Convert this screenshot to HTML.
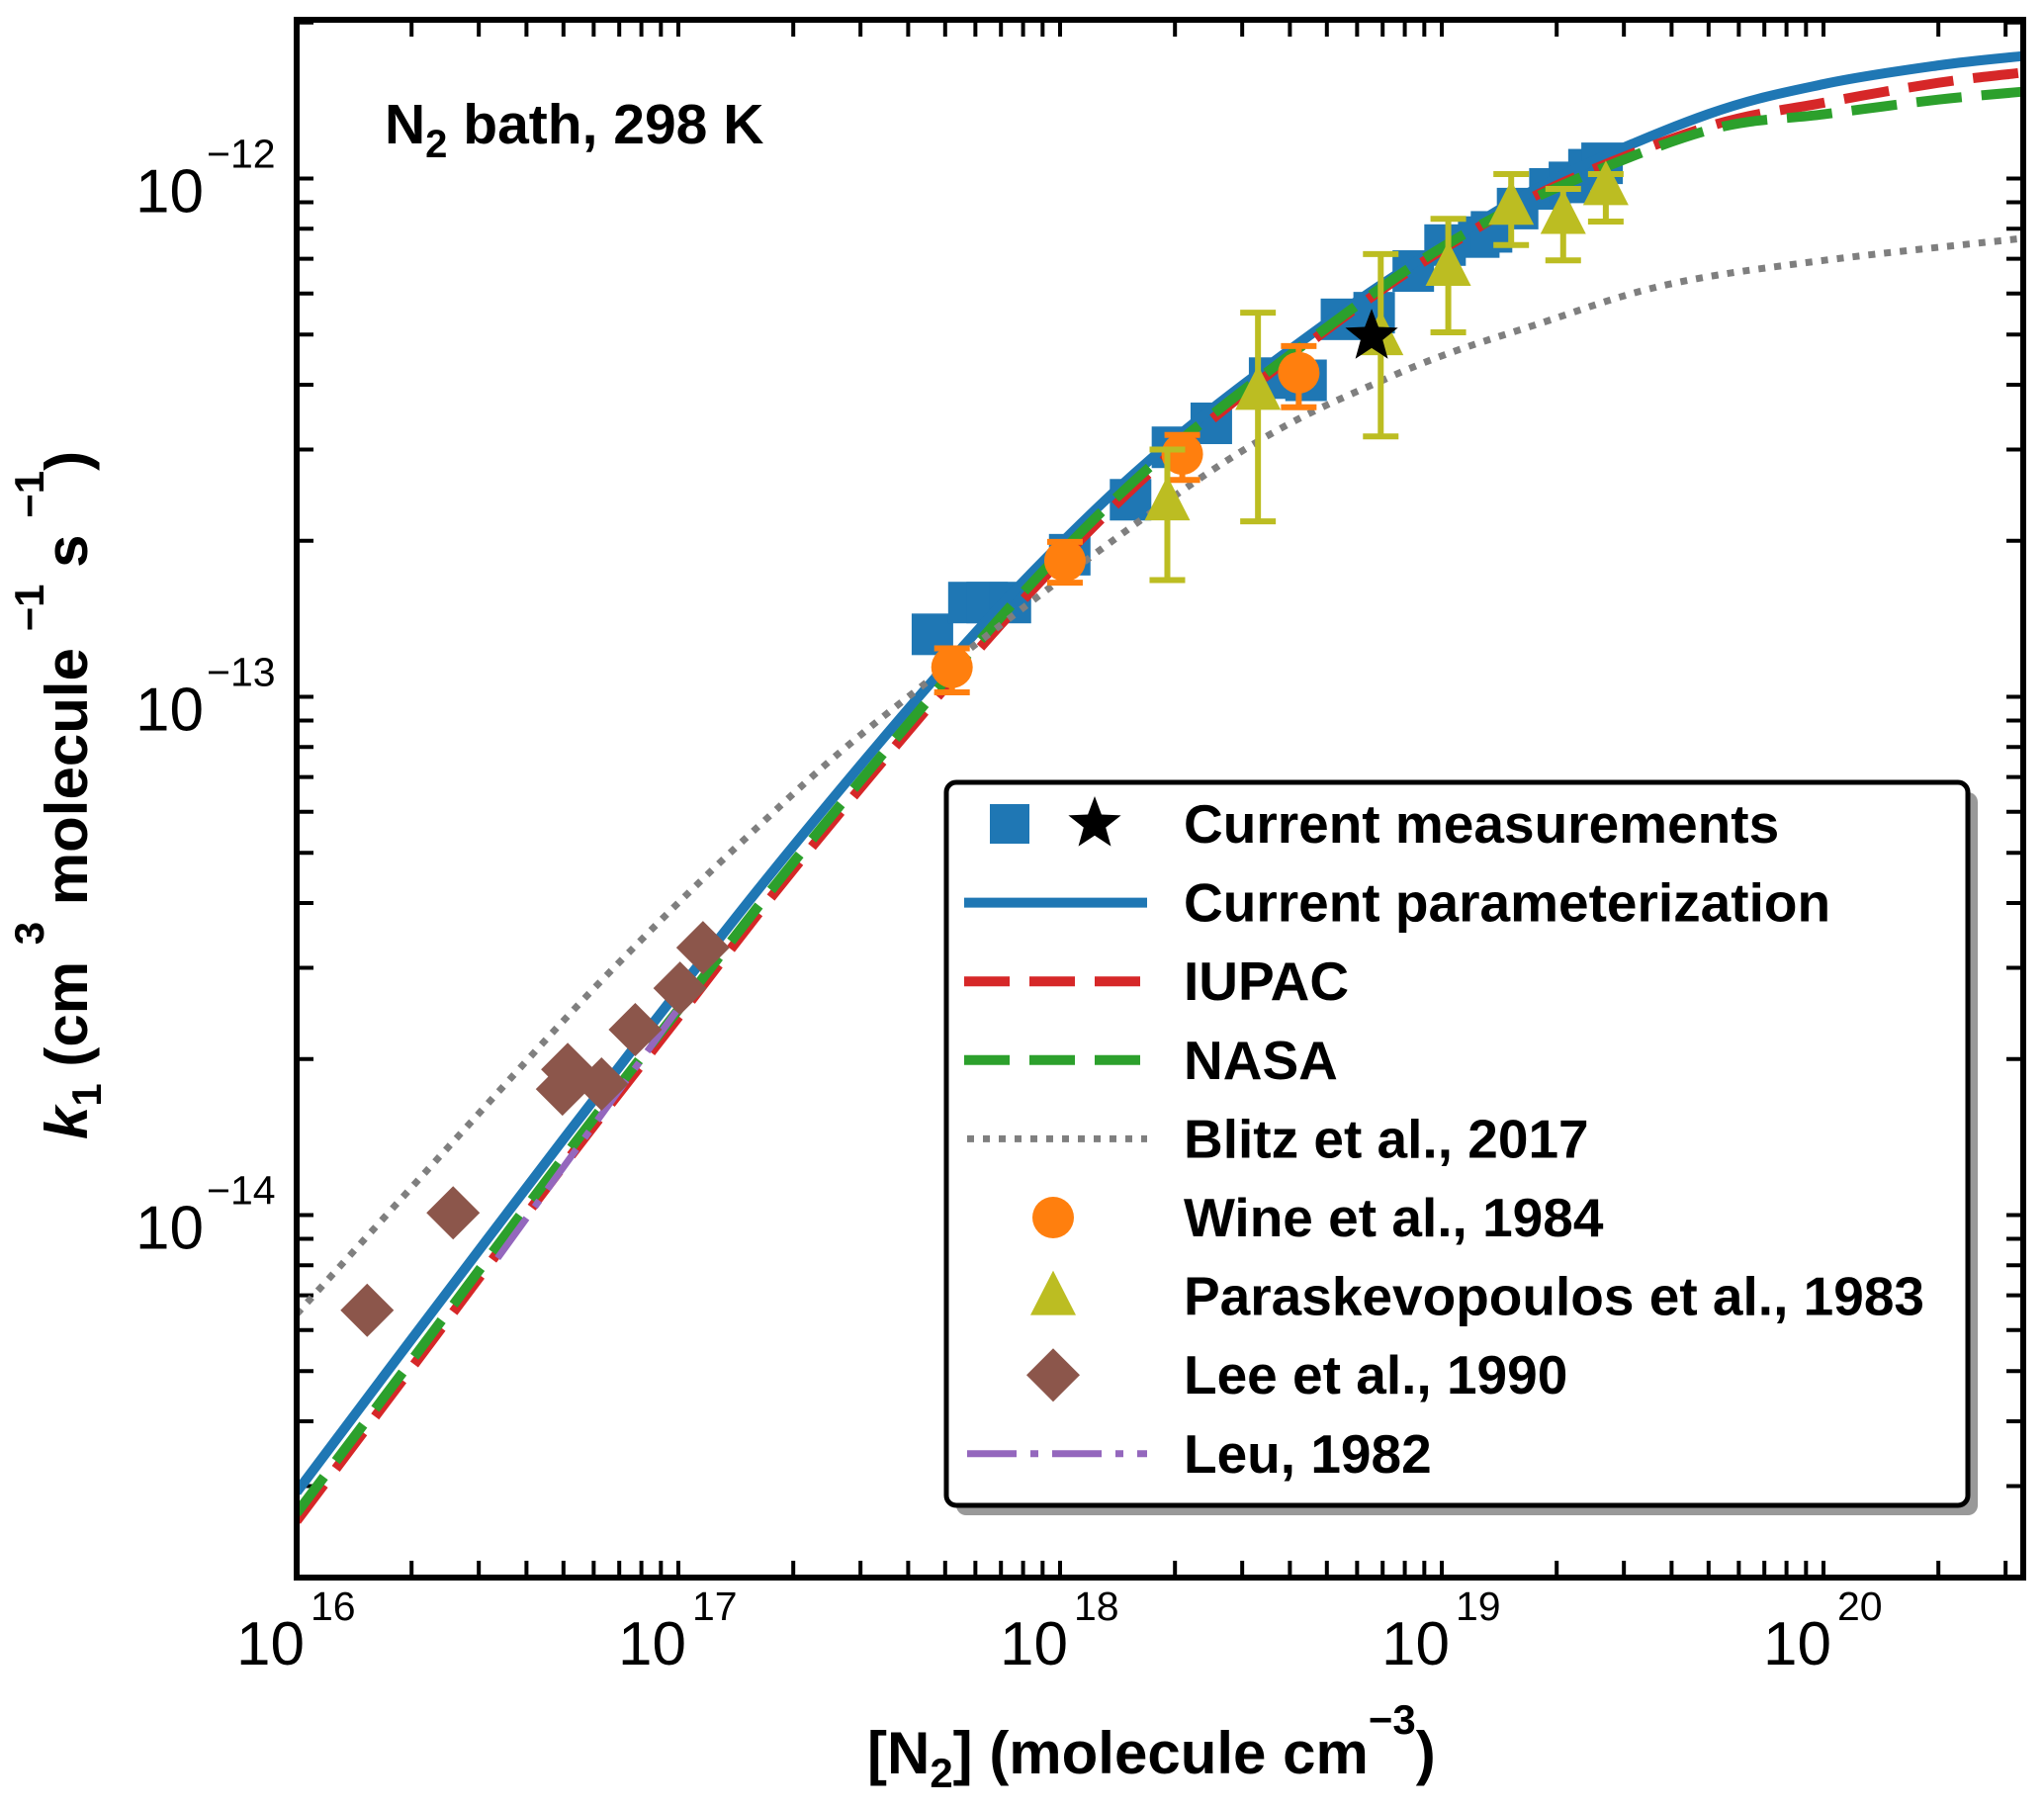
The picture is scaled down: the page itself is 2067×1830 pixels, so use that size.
<!DOCTYPE html>
<html><head><meta charset="utf-8"><style>
html,body{margin:0;padding:0;background:#fff;}
svg{display:block;font-family:"Liberation Sans",Arial,sans-serif;}
</style></head><body>
<svg id="chart" width="2067" height="1830" viewBox="0 0 2067 1830" xmlns="http://www.w3.org/2000/svg">
<defs><clipPath id="clip"><rect x="300" y="20" width="1746" height="1575"/></clipPath></defs>
<rect width="2067" height="1830" fill="#fff"/>
<g id="ticks"></g>
<g id="ticklabels"></g>
<g id="plot" clip-path="url(#clip)"></g>
<rect x="300" y="20" width="1746" height="1575" fill="none" stroke="#000" stroke-width="6"/>
<text x="389" y="145" font-size="57" font-weight="bold">N<tspan font-size="40" dy="14">2</tspan><tspan dy="-14"> bath, 298 K</tspan></text>
<text x="877" y="1793" font-size="60" font-weight="bold">[N<tspan font-size="42" dy="14">2</tspan><tspan dy="-14">] (molecule cm</tspan><tspan font-size="42" dy="-40">−3</tspan><tspan dy="40">)</tspan></text>
<text transform="translate(88,1152) rotate(-90)" font-size="60" font-weight="bold"><tspan font-style="italic">k</tspan><tspan font-size="42" dy="14">1</tspan><tspan dy="-14"> (cm </tspan><tspan font-size="42" dy="-44">3</tspan><tspan dy="44"> molecule </tspan><tspan font-size="42" dy="-44">−1</tspan><tspan dy="44"> s </tspan><tspan font-size="42" dy="-44">−1</tspan><tspan dy="44">)</tspan></text>
<g id="legend"></g>
</svg>
<script>
var NS="http://www.w3.org/2000/svg";
// ---- data ----
var curveX=[1e16,2e16,5e16,1e17,2e17,5e17,1e18,2e18,5e18,1e19,2e19,5e19,1e20,2e20,3.3e20];
var currentK=[2.92e-15,5.76e-15,1.401e-14,2.71e-14,5.15e-14,1.144e-13,1.97e-13,3.15e-13,5.27e-13,7.43e-13,1.001e-12,1.332e-12,1.521e-12,1.653e-12,1.722e-12];
var iupacK=[2.57e-15,5.07e-15,1.247e-14,2.41e-14,4.64e-14,1.041e-13,1.83e-13,2.99e-13,5.11e-13,7.28e-13,9.7e-13,1.26e-12,1.40e-12,1.53e-12,1.60e-12];
var nasaK=[2.66e-15,5.24e-15,1.289e-14,2.49e-14,4.79e-14,1.075e-13,1.89e-13,3.06e-13,5.16e-13,7.36e-13,9.6e-13,1.24e-12,1.33e-12,1.42e-12,1.47e-12];
var blitzX=[1.0e16,2.49e16,6.19e16,1.54e17,3.83e17,2.49e18,7.48e18,1.86e19,3.93e19,1e20,3.3e20];
var blitzK=[6.44e-15,1.35e-14,2.8e-14,5.43e-14,9.75e-14,2.73e-13,4.17e-13,5.29e-13,6.25e-13,6.95e-13,7.66e-13];
var leuX=[3.36e16,1.01e17];
var leuK=[8.26e-15,2.53e-14];
var measX=[4.63e17,5.77e17,6.44e17,7.41e17,1.06e18,1.53e18,1.97e18,2.49e18,3.54e18,4.41e18,5.46e18,6.65e18,8.42e18,1.02e19,1.25e19,1.35e19,1.58e19,1.92e19,2.16e19,2.43e19,2.63e19];
var measK=[1.32e-13,1.52e-13,1.52e-13,1.52e-13,1.88e-13,2.40e-13,3.03e-13,3.37e-13,4.12e-13,4.08e-13,5.35e-13,5.51e-13,6.63e-13,7.44e-13,7.71e-13,7.89e-13,8.75e-13,9.55e-13,9.83e-13,1.04e-12,1.07e-12];
var starX=[6.55e18];
var starK=[4.96e-13];
var wineX=[5.21e17,1.03e18,2.09e18,4.22e18];
var wineK=[1.14e-13,1.83e-13,2.94e-13,4.22e-13];
var wineLo=[1.02e-13,1.66e-13,2.62e-13,3.62e-13];
var wineHi=[1.24e-13,1.99e-13,3.2e-13,4.75e-13];
var paraX=[1.91e18,3.30e18,6.92e18,1.04e19,1.52e19,2.08e19,2.69e19];
var paraK=[2.38e-13,3.89e-13,4.96e-13,6.75e-13,8.85e-13,8.5e-13,9.66e-13];
var paraLo=[1.68e-13,2.18e-13,3.18e-13,5.05e-13,7.44e-13,6.95e-13,8.26e-13];
var paraHi=[3.0e-13,5.51e-13,7.15e-13,8.36e-13,1.02e-12,9.55e-13,1.02e-12];
var leeX=[1.53e16,2.57e16,5.13e16,4.97e16,6.29e16,7.71e16,1.01e17,1.16e17];
var leeK=[6.55e-15,1.01e-14,1.91e-14,1.75e-14,1.79e-14,2.28e-14,2.74e-14,3.28e-14];
var xTickExps=[16,17,18,19,20];
var yTickExps=[-12,-13,-14];
var legendLabels=["Current measurements","Current parameterization","IUPAC","NASA","Blitz et al., 2017","Wine et al., 1984","Paraskevopoulos et al., 1983","Lee et al., 1990","Leu, 1982"];
// ---- axes ----
var L=300,R=2046,T=20,B=1595,DX=386,Y12=180.5,DY=524;
function sx(v){return L+(Math.log10(v)-16)*DX;}
function sy(v){return Y12-(Math.log10(v)+12)*DY;}
function el(tag,attrs,parent){var e=document.createElementNS(NS,tag);for(var k in attrs)e.setAttribute(k,attrs[k]);parent.appendChild(e);return e;}
var plot=document.getElementById('plot'),ticks=document.getElementById('ticks'),tl=document.getElementById('ticklabels');
for(var d=16;d<=20;d++){for(var m=1;m<=9;m++){var v=m*Math.pow(10,d);var x=sx(v);if(x<L-1||x>R+1)continue;
 var t1=el('line',{x1:x,x2:x,y1:B,y2:B-17,stroke:'#000','stroke-width':4},ticks);
 
 var t2=el('line',{x1:x,x2:x,y1:T,y2:T+17,stroke:'#000','stroke-width':4},ticks);
 }}
for(var d=-15;d<=-12;d++){for(var m=1;m<=9;m++){var v=m*Math.pow(10,d);var y=sy(v);if(y<T-1||y>B+1)continue;
 var t3=el('line',{x1:L,x2:L+17,y1:y,y2:y,stroke:'#000','stroke-width':4},ticks);
 
 var t4=el('line',{x1:R,x2:R-17,y1:y,y2:y,stroke:'#000','stroke-width':4},ticks);
 }}
xTickExps.forEach(function(e){var x=sx(Math.pow(10,e));
 var g=el('g',{},tl);
 el('text',{x:x+8,y:1683,'text-anchor':'end','font-size':62},g).textContent='10';
 el('text',{x:x+14,y:1638,'font-size':41},g).textContent=String(e);});
yTickExps.forEach(function(e){var y=sy(Math.pow(10,e));
 var g=el('g',{},tl);
 el('text',{x:206,y:y+34,'text-anchor':'end','font-size':62},g).textContent='10';
 el('text',{x:209,y:y-11,'font-size':41},g).textContent='\u2212'+String(-e);});
function pathD(xs,ys){var pts=xs.map(function(x,i){return [sx(x),sy(ys[i])];});var d='M'+pts[0][0]+','+pts[0][1];
 for(var i=0;i<pts.length-1;i++){var p0=pts[i-1]||pts[i],p1=pts[i],p2=pts[i+1],p3=pts[i+2]||p2;
 d+=' C'+(p1[0]+(p2[0]-p0[0])/6)+','+(p1[1]+(p2[1]-p0[1])/6)+' '+(p2[0]-(p3[0]-p1[0])/6)+','+(p2[1]-(p3[1]-p1[1])/6)+' '+p2[0]+','+p2[1];}return d;}
function sq(x,y,s,c,name){var r=el('rect',{x:x-s/2,y:y-s/2,width:s,height:s,fill:c},plot);return r;}
measX.forEach(function(x,i){sq(sx(x),sy(measK[i]),42,'#1f77b4','measurement-square');});
var c1=el('path',{d:pathD(curveX,currentK),fill:'none',stroke:'#1f77b4','stroke-width':10},plot);

var c2=el('path',{d:pathD(curveX,iupacK),fill:'none',stroke:'#d62728','stroke-width':10,'stroke-dasharray':'46 20'},plot);

var c3=el('path',{d:pathD(curveX,nasaK),fill:'none',stroke:'#2ca02c','stroke-width':10,'stroke-dasharray':'46 20'},plot);

var c4=el('path',{d:pathD(blitzX,blitzK),fill:'none',stroke:'#7f7f7f','stroke-width':7,'stroke-dasharray':'7 9'},plot);

var c5=el('path',{d:pathD(leuX,leuK),fill:'none',stroke:'#9467bd','stroke-width':7,'stroke-dasharray':'50 14 8 14'},plot);

function errbar(x,lo,hi,c,name){var X=sx(x),y1=sy(lo),y2=sy(hi);var g=el('g',{stroke:c,'stroke-width':6},plot);
 
 el('line',{x1:X,x2:X,y1:y1,y2:y2},g);el('line',{x1:X-18,x2:X+18,y1:y1,y2:y1},g);el('line',{x1:X-18,x2:X+18,y1:y2,y2:y2},g);}
wineX.forEach(function(x,i){errbar(x,wineLo[i],wineHi[i],'#ff7f0e','wine-errorbar');});
wineX.forEach(function(x,i){var c=el('circle',{cx:sx(x),cy:sy(wineK[i]),r:21,fill:'#ff7f0e'},plot);
 });
paraX.forEach(function(x,i){errbar(x,paraLo[i],paraHi[i],'#bcbd22','paraskevopoulos-errorbar');});
paraX.forEach(function(x,i){var X=sx(x),Y=sy(paraK[i]);var p=el('polygon',{points:(X)+','+(Y-26)+' '+(X-23)+','+(Y+19)+' '+(X+23)+','+(Y+19),fill:'#bcbd22'},plot);
 });
leeX.forEach(function(x,i){var X=sx(x),Y=sy(leeK[i]);var p=el('polygon',{points:X+','+(Y-27)+' '+(X+27)+','+Y+' '+X+','+(Y+27)+' '+(X-27)+','+Y,fill:'#8c564b'},plot);
 });
function starPts(X,Y,r){var s='';for(var k=0;k<10;k++){var a=-Math.PI/2+k*Math.PI/5;var rr=k%2?r*0.42:r;s+=(X+rr*Math.cos(a))+','+(Y+rr*Math.sin(a))+' ';}return s;}
starX.forEach(function(x,i){var p=el('polygon',{points:starPts(sx(x),sy(starK[i]),28),fill:'#000'},plot);
 });
var lg=document.getElementById('legend');
var sh=el('rect',{x:967,y:801,width:1033,height:731,rx:10,fill:'#999'},lg);

var bx=el('rect',{x:957,y:791,width:1033,height:731,rx:10,fill:'#fff',stroke:'#000','stroke-width':5},lg);

legendLabels.forEach(function(lab,i){var cy=833+i*79.6;var g=el('g',{},lg);
 
 var t=el('text',{x:1197,y:cy+19,'font-size':55,'font-weight':'bold'},g);t.textContent=lab;
 if(i==0){el('rect',{x:1001,y:cy-20,width:40,height:40,fill:'#1f77b4'},g);el('polygon',{points:starPts(1107,cy,28),fill:'#000'},g);}
 if(i==1)el('line',{x1:975,x2:1160,y1:cy,y2:cy,stroke:'#1f77b4','stroke-width':10},g);
 if(i==2)el('line',{x1:975,x2:1160,y1:cy,y2:cy,stroke:'#d62728','stroke-width':10,'stroke-dasharray':'46 20'},g);
 if(i==3)el('line',{x1:975,x2:1160,y1:cy,y2:cy,stroke:'#2ca02c','stroke-width':10,'stroke-dasharray':'46 20'},g);
 if(i==4)el('line',{x1:978,x2:1160,y1:cy,y2:cy,stroke:'#7f7f7f','stroke-width':7,'stroke-dasharray':'7 9'},g);
 if(i==5)el('circle',{cx:1065,cy:cy,r:21,fill:'#ff7f0e'},g);
 if(i==6)el('polygon',{points:'1065,'+(cy-26)+' 1042,'+(cy+19)+' 1088,'+(cy+19),fill:'#bcbd22'},g);
 if(i==7)el('polygon',{points:'1065,'+(cy-27)+' 1092,'+cy+' 1065,'+(cy+27)+' 1038,'+cy,fill:'#8c564b'},g);
 if(i==8)el('line',{x1:978,x2:1160,y1:cy,y2:cy,stroke:'#9467bd','stroke-width':7,'stroke-dasharray':'50 14 8 14'},g);
});
</script>
</body></html>
